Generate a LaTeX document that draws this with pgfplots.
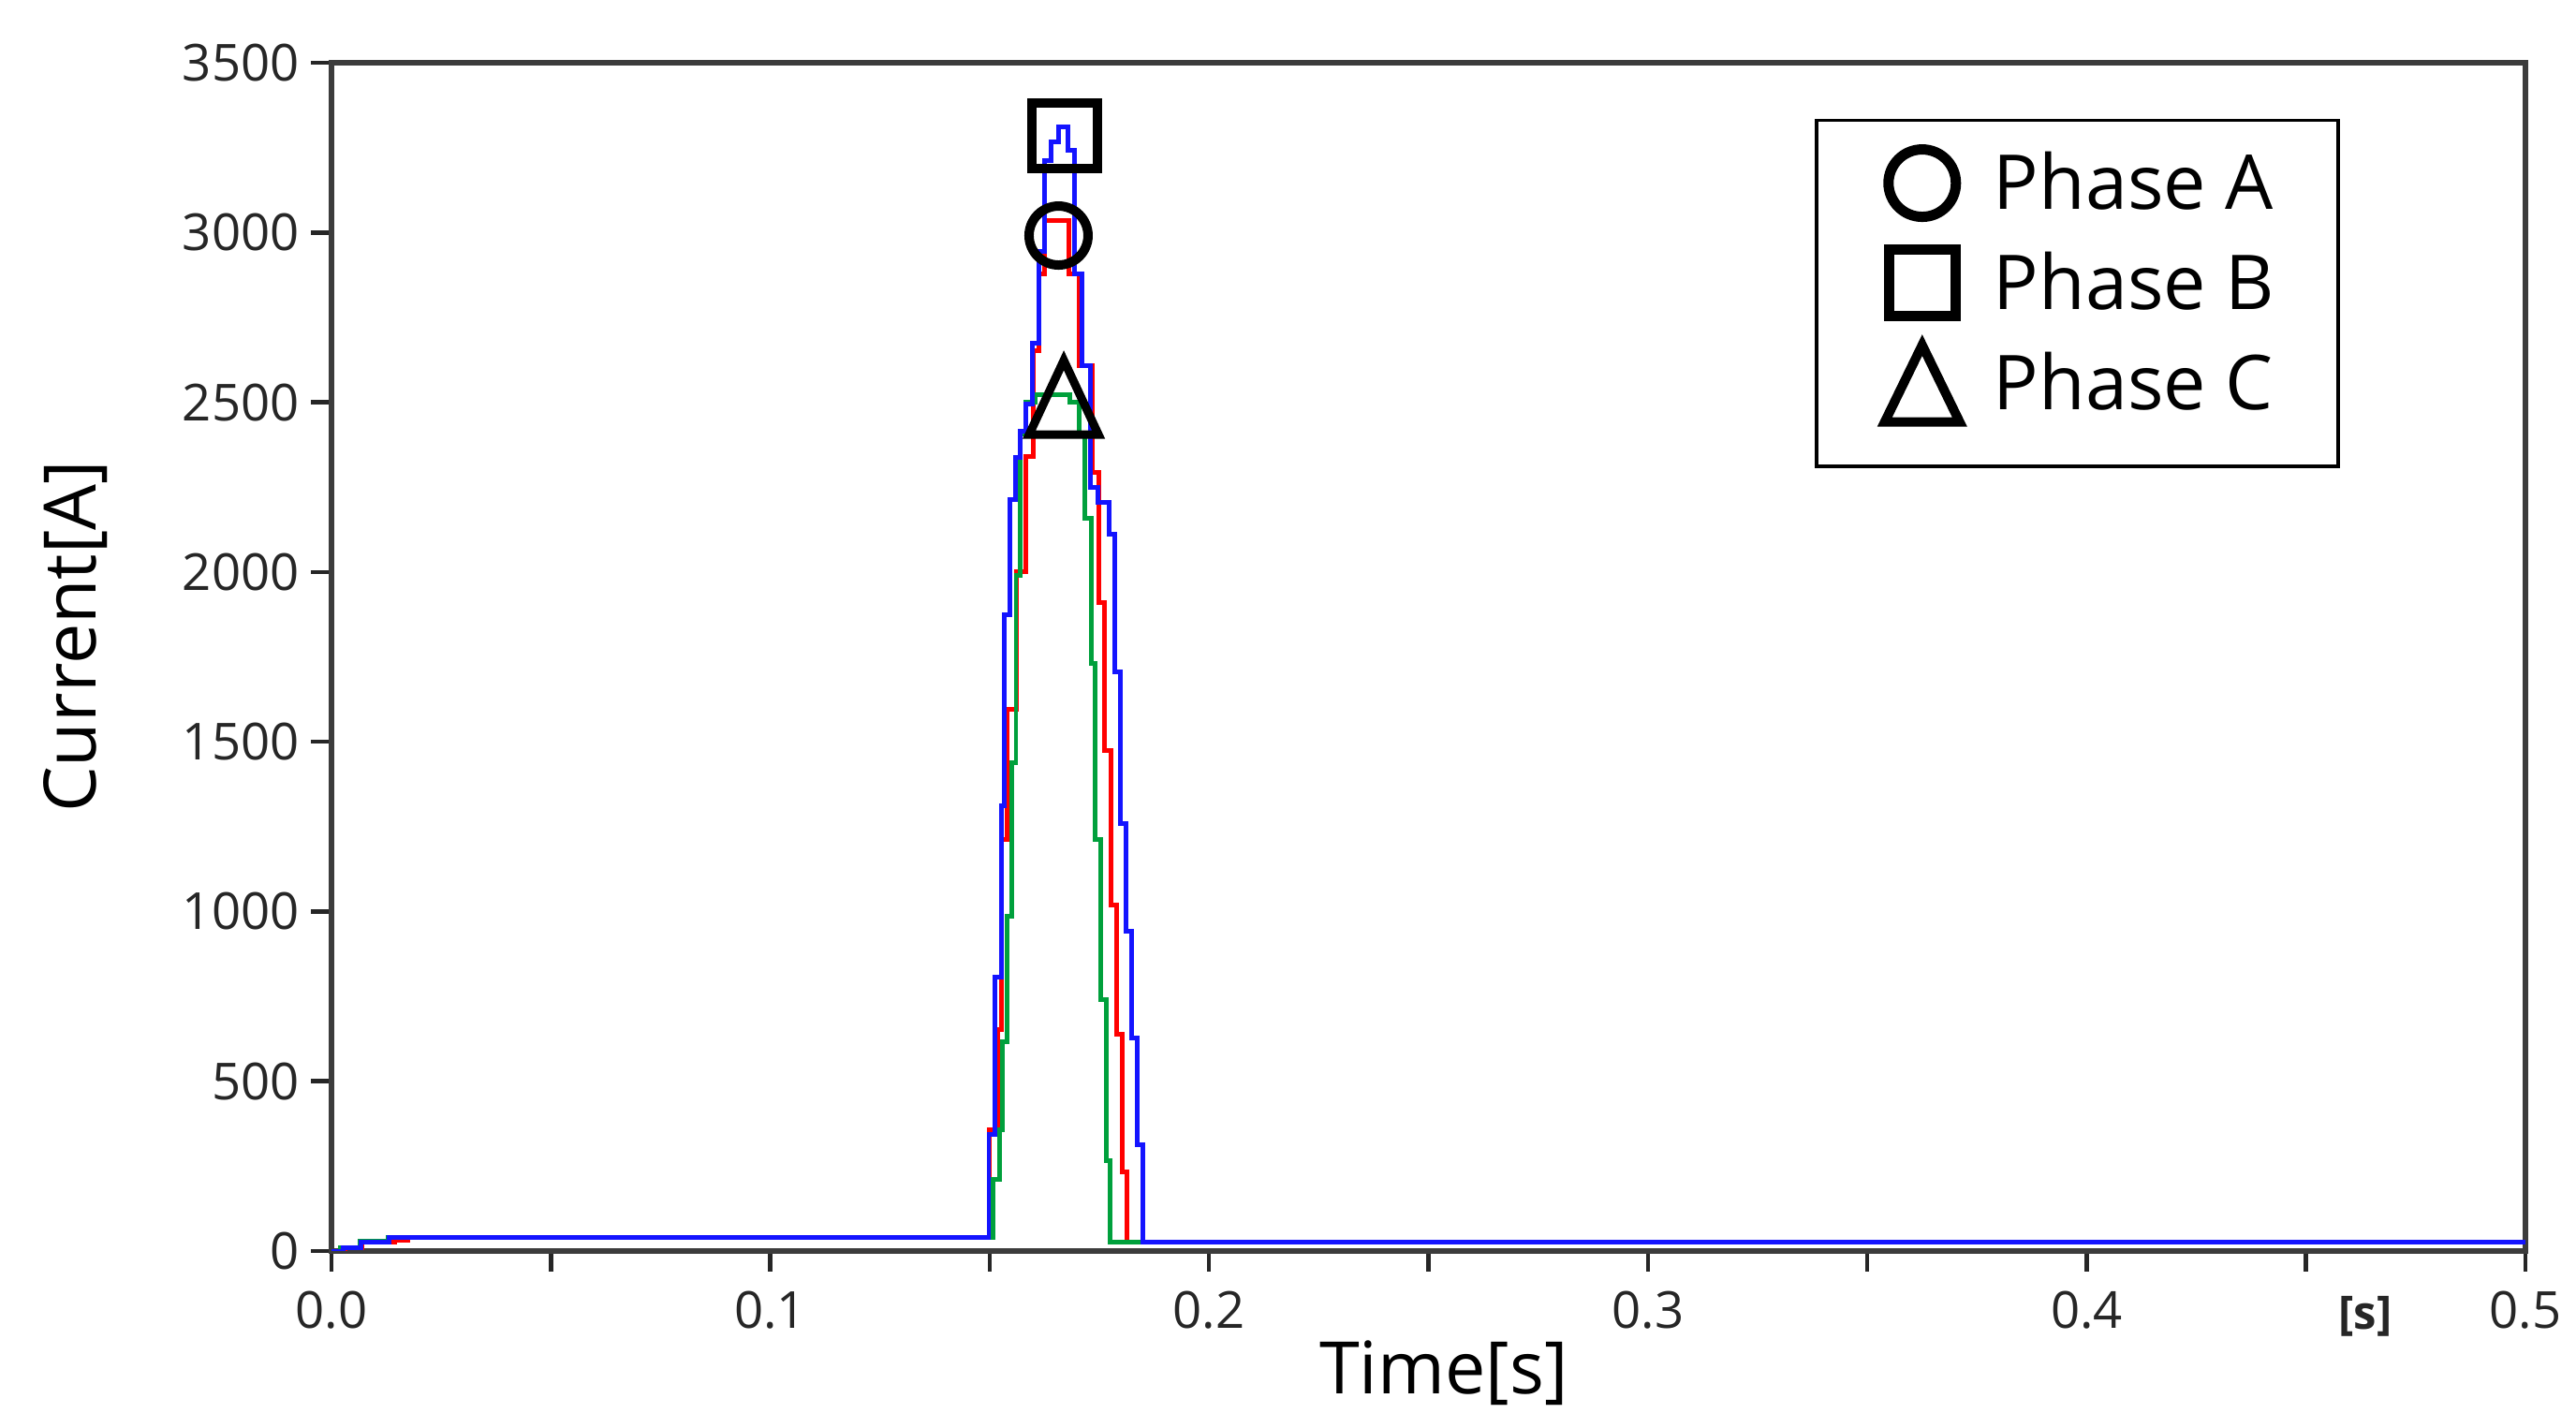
\documentclass[border=0pt]{standalone}
\usepackage{fontspec}
\setmainfont{Open Sans}
\usepackage{pgfplots}
\pgfplotsset{compat=1.18}
\definecolor{phA}{RGB}{255,0,0}
\definecolor{phB}{RGB}{20,20,255}
\definecolor{phC}{RGB}{0,160,60}
\definecolor{axgray}{RGB}{60,60,60}
\pgfdeclareplotmark{tribase}{%
  \pgfpathmoveto{\pgfqpoint{0pt}{2.14\pgfplotmarksize}}%
  \pgfpathlineto{\pgfqpoint{-\pgfplotmarksize}{0pt}}%
  \pgfpathlineto{\pgfqpoint{\pgfplotmarksize}{0pt}}%
  \pgfpathclose\pgfusepathqstroke}
\begin{document}
\begin{tikzpicture}
\path[use as bounding box] (-35.4mm,-18.9mm) rectangle (239.7mm,133.6mm);
\begin{axis}[
  scale only axis, width=234.3mm, height=126.9mm,
  xmin=0, xmax=0.5, ymin=0, ymax=3500,
  clip mode=individual,
  axis line style={draw=axgray, line width=1.7pt},
  tick align=outside, tick pos=left,
  xtick={0,0.05,0.1,0.15,0.2,0.25,0.3,0.35,0.4,0.45,0.5},
  xticklabels={0.0,{},0.1,{},0.2,{},0.3,{},0.4,{},0.5},
  ytick={0,500,1000,1500,2000,2500,3000,3500},
  yticklabels={0,500,1000,1500,2000,2500,3000,3500},
  major tick length=2.2mm,
  tick style={draw=black!85, line width=1.3pt},
  ticklabel style={font=\fontsize{15.5}{17}\selectfont, text=black!85},
  xticklabel style={yshift=-0.9mm},
  xlabel={Time[s]}, ylabel={Current[A]},
  label style={font=\fontsize{22}{24}\selectfont},
  xlabel style={at={([yshift=-13mm]rel axis cs:0.507,0)}, anchor=center},
  ylabel style={at={([xshift=-27.3mm]rel axis cs:0,0.517)}, anchor=center},
  const plot,
  legend style={at={(0.676,0.953)}, anchor=north west, draw=black, line width=1.1pt,
    fill=white, inner xsep=6.8mm, inner ysep=2.2mm, row sep=1.65mm,
    font=\fontsize{23}{25}\selectfont, nodes={inner sep=0pt},
    /tikz/every odd column/.append style={column sep=2.6mm}},
  legend cell align=left,
]
\addplot[forget plot, phA, line width=1.4pt] coordinates {
(0,0) (0.003,9) (0.007,26) (0.0145,32) (0.0175,40)
(0.1500,357) (0.1518,651) (0.1526,1213) (0.1540,1595) (0.1562,2000)
(0.1583,2339) (0.1600,2653) (0.1612,2879) (0.1626,3036) (0.1680,2879)
(0.1704,2609) (0.1733,2293) (0.1748,1911) (0.1762,1473) (0.1776,1020)
(0.1789,638) (0.1802,234) (0.1812,26) (0.5,26)};
\addplot[forget plot, phC, line width=1.4pt] coordinates {
(0,0) (0.002,10) (0.0065,28) (0.0130,40)
(0.1508,211) (0.1522,357) (0.1529,616) (0.1540,987) (0.1551,1438)
(0.1560,1989) (0.1570,2406) (0.1583,2499) (0.1604,2521) (0.1682,2499)
(0.1704,2406) (0.1716,2158) (0.1731,1730) (0.1741,1213) (0.1753,740)
(0.1765,267) (0.1774,26) (0.5,26)};
\addplot[forget plot, phB, line width=1.4pt] coordinates {
(0,0) (0.0026,9) (0.0068,26) (0.0132,40)
(0.1498,343) (0.1512,806) (0.1526,1311) (0.1533,1875) (0.1547,2213)
(0.1558,2337) (0.1569,2415) (0.1583,2494) (0.1597,2675) (0.1612,2945)
(0.1626,3211) (0.1640,3266) (0.1658,3312) (0.1679,3243) (0.1693,2879)
(0.1711,2609) (0.1729,2248) (0.1747,2204) (0.1772,2112) (0.1785,1707)
(0.1797,1258) (0.1811,943) (0.1823,627) (0.1836,312) (0.1849,26) (0.5,26)};
\addplot[forget plot, only marks, mark=o, mark size=3.15mm,
  mark options={draw=black, fill=none, line width=1mm, solid}] coordinates {(0.1657,2991)};
\addplot[forget plot, only marks, mark=square, mark size=3.5mm,
  mark options={draw=black, fill=none, line width=1mm, solid}] coordinates {(0.1671,3286)};
\addplot[forget plot, only marks, mark=tribase, mark size=3.7mm,
  mark options={draw=black, fill=none, line width=0.9mm, solid}] coordinates {(0.1669,2405)};
\addlegendimage{legend image code/.code={
  \path[draw=none,fill=none] (0,-4.5mm) rectangle (8.6mm,4.5mm);
  \draw[black, line width=1.1mm] (3.6mm,0) circle (3.6mm);}}
\addlegendentry{Phase A}
\addlegendimage{legend image code/.code={
  \path[draw=none,fill=none] (0,-4.5mm) rectangle (8.6mm,4.5mm);
  \draw[black, line width=1.1mm] (0.05mm,-3.55mm) rectangle (7.15mm,3.55mm);}}
\addlegendentry{Phase B}
\addlegendimage{legend image code/.code={
  \path[draw=none,fill=none] (0,-6.6mm) rectangle (8.6mm,4.5mm);
  \draw[black, line width=1mm, miter limit=10] (-0.4mm,-4.1mm) -- (3.6mm,4.1mm) -- (7.6mm,-4.1mm) -- cycle;}}
\addlegendentry{Phase C}
\node[font=\bfseries\fontsize{14}{16}\selectfont, text=black!85] at ([yshift=-7mm]rel axis cs:0.927,0) {[s]};
\end{axis}
\end{tikzpicture}
\end{document}
